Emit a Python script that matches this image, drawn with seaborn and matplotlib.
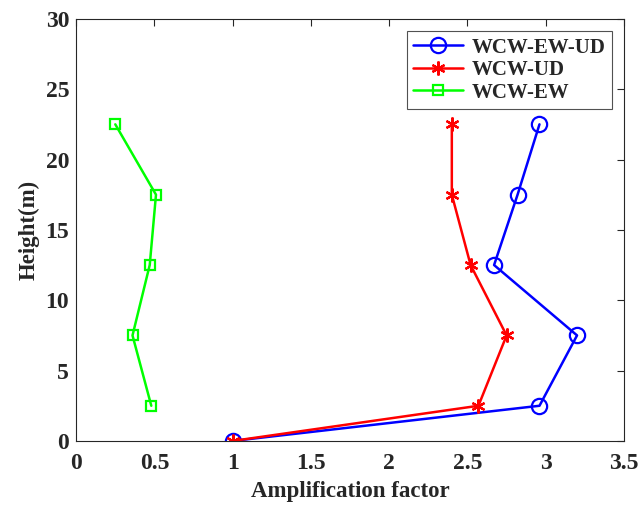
import matplotlib
matplotlib.use("Agg")
import matplotlib.pyplot as plt
import seaborn as sns
import pandas as pd

sns.set_theme(style="white")
plt.rcParams['font.family'] = ['Liberation Serif', 'DejaVu Serif']
plt.rcParams['font.weight'] = 'bold'

# data
height_full = [0, 2.5, 7.5, 12.5, 17.5, 22.5]
height_ew = [2.5, 7.5, 12.5, 17.5, 22.5]
wcw_ew_ud = [1.0, 2.96, 3.20, 2.67, 2.82, 2.96]
wcw_ud = [1.0, 2.57, 2.75, 2.52, 2.40, 2.40]
wcw_ew = [0.48, 0.36, 0.47, 0.51, 0.25]

asterisk = (6, 2, 0)
series = [
    ("WCW-EW-UD", wcw_ew_ud, height_full, "#0000ff", "o", 11, "none"),
    ("WCW-UD", wcw_ud, height_full, "#ff0000", asterisk, 10, None),
    ("WCW-EW", wcw_ew, height_ew, "#00ff00", "s", 7, "none"),
]

fig = plt.figure(figsize=(6.4, 5.08), dpi=100)
ax = fig.add_axes([0.119, 0.132, 0.856, 0.831])

for name, xs, ys, col, mk, ms, mfc in series:
    df = pd.DataFrame({"x": xs, "y": ys})
    sns.lineplot(data=df, x="x", y="y", sort=False, estimator=None, ax=ax,
                 color=col, lw=1.8, marker=mk, markersize=ms,
                 markeredgecolor=col, markerfacecolor=(mfc if mfc else col),
                 markeredgewidth=1.6, label=name)

ax.set_xlim(0, 3.5)
ax.set_ylim(0, 30)
ax.set_xticks([0, 0.5, 1, 1.5, 2, 2.5, 3, 3.5])
ax.set_xticklabels(["0", "0.5", "1", "1.5", "2", "2.5", "3", "3.5"])
ax.set_yticks(range(0, 31, 5))
ax.tick_params(direction="in", length=5, labelsize=17, top=True, right=True,
               colors="#262626", width=0.8)
ax.tick_params(axis="x", pad=9)
ax.tick_params(axis="y", pad=5)
for lbl in ax.get_xticklabels() + ax.get_yticklabels():
    lbl.set_fontweight("bold")
for s in ax.spines.values():
    s.set_color("#262626")
    s.set_linewidth(0.8)
ax.set_xlabel("Amplification factor", fontsize=16.5, fontweight="bold", labelpad=5)
ax.set_ylabel("Height(m)", fontsize=16.5, fontweight="bold", labelpad=4)

leg = ax.legend(loc="upper right", fontsize=15, frameon=True, fancybox=False,
                borderaxespad=0.6, handlelength=2.4, labelspacing=0.12,
                borderpad=0.3, handletextpad=0.4)
leg.get_frame().set_edgecolor("#262626")
leg.get_frame().set_linewidth(0.8)
for t in leg.get_texts():
    t.set_fontweight("bold")

fig.savefig("out.png", dpi=100)
